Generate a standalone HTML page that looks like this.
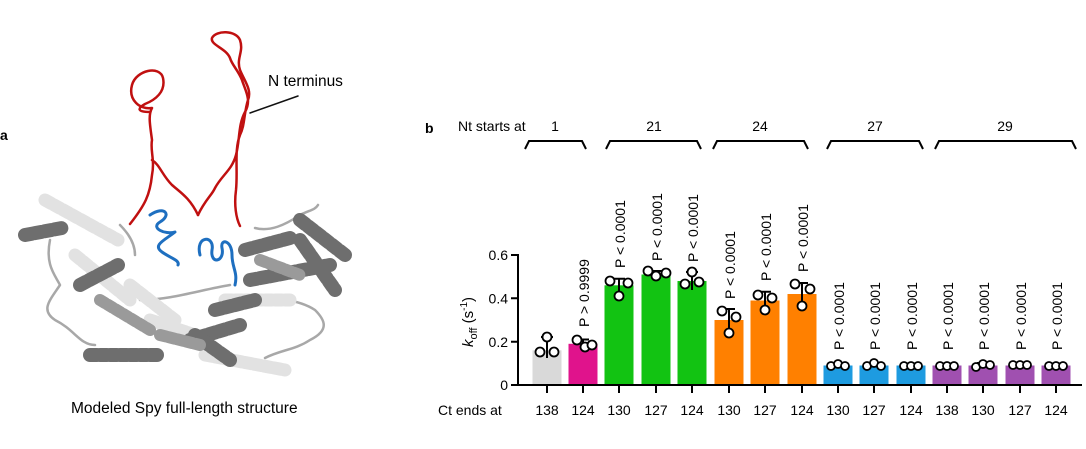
<!DOCTYPE html>
<html><head><meta charset="utf-8"><style>
html,body{margin:0;padding:0;background:#fff;}
svg{display:block;font-family:"Liberation Sans",Arial,sans-serif;}
</style></head><body>
<svg width="1086" height="449" viewBox="0 0 1086 449" xmlns="http://www.w3.org/2000/svg">
<rect width="1086" height="449" fill="#fff"/>
<!-- panel a -->
<text x="0" y="140" font-size="14" font-weight="bold">a</text>
<g fill="none" stroke-linecap="round" stroke-linejoin="round">
 <!-- loops gray -->
 <g stroke="#a8a8a8" stroke-width="2.5">
  <path d="M50,240 C45,265 55,275 60,285 C50,300 40,310 55,320 C75,330 80,345 95,345"/>
  <path d="M120,225 C130,235 135,245 135,255"/>
  <path d="M255,228 C270,232 285,225 300,215 C310,210 315,210 318,205"/>
  <path d="M240,300 C270,295 300,300 315,310 C325,320 330,330 310,340 C295,350 280,350 265,358"/>
  <path d="M140,300 C170,300 200,290 230,285"/>
 </g>
 <!-- light helices -->
 <g stroke="#e2e2e2" stroke-width="13" stroke-dasharray="7 3">
  <path d="M45,200 L118,240"/>
  <path d="M75,255 L130,300"/>
  <path d="M130,285 L175,320"/>
  <path d="M205,355 L285,370"/>
  <path d="M150,320 L195,335"/>
  <path d="M225,300 L290,300"/>
 </g>
 <!-- dark helices -->
 <g stroke="#6e6e6e" stroke-width="14" stroke-dasharray="7 3">
  <path d="M25,235 L62,228"/>
  <path d="M90,355 L160,355"/>
  <path d="M80,285 L118,265"/>
  <path d="M190,340 L240,325"/>
  <path d="M245,250 L290,238"/>
  <path d="M300,220 L345,255"/>
  <path d="M250,280 L330,265"/>
  <path d="M215,310 L255,300"/>
  <path d="M195,335 L230,360"/>
  <path d="M300,240 L335,290"/>
 </g>
 <g stroke="#9a9a9a" stroke-width="12" stroke-dasharray="6 3">
  <path d="M100,300 L150,330"/>
  <path d="M160,335 L200,345"/>
  <path d="M260,260 L300,275"/>
 </g>
 <!-- red loops -->
 <g stroke="#c01010" stroke-width="2.5">
  <path d="M130,224 C145,205 150,195 152,175 C155,160 150,150 152,140 C150,125 148,115 152,108 C140,110 128,100 132,85 C136,70 160,65 163,78 C166,92 155,100 145,104 C138,108 136,112 150,112"/>
  <path d="M152,160 C160,165 162,175 172,185 C180,192 190,198 198,215"/>
  <path d="M198,215 C205,200 212,195 215,188 C222,175 232,170 236,155 C240,140 238,125 245,112 C252,100 245,90 242,80 C238,70 232,65 230,58 C226,48 210,45 212,38 C216,30 236,30 240,40 C244,52 236,58 240,70 C245,82 252,90 248,100 C244,112 245,125 240,135 C234,150 238,170 236,190 C234,205 236,218 240,226"/>
 </g>
 <!-- blue helices -->
 <g stroke="#1e6fc0" stroke-width="3">
  <path d="M150,215 C165,205 172,215 160,222 C150,228 165,235 175,232 C165,240 152,245 162,252 C170,258 180,260 178,265"/>
  <path d="M200,255 C195,235 215,235 212,250 C210,265 225,262 222,248 C220,238 232,240 232,255 C232,268 238,272 235,285"/>
 </g>
 <path d="M250,113 L298,96" stroke="#111" stroke-width="1.5"/>
</g>
<text x="268" y="86" font-size="15.5">N terminus</text>
<text x="71" y="413" font-size="15.5">Modeled Spy full-length structure</text>

<!-- panel b -->
<text x="425" y="133" font-size="14" font-weight="bold">b</text>
<text x="458" y="131" font-size="14">Nt starts at</text>
<g font-size="14" text-anchor="middle">
 <text x="555" y="131">1</text>
 <text x="654" y="131">21</text>
 <text x="760" y="131">24</text>
 <text x="875" y="131">27</text>
 <text x="1005" y="131">29</text>
</g>
<g fill="none" stroke="#000" stroke-width="2">
 <path d="M525,149 L529,141 L582,141 L586,149"/>
 <path d="M606,149 L610,141 L697,141 L701,149"/>
 <path d="M713,149 L717,141 L804,141 L808,149"/>
 <path d="M827,149 L831,141 L919,141 L923,149"/>
 <path d="M935,149 L939,141 L1072,141 L1076,149"/>
</g>

<!-- bars -->
<rect x="532.5" y="350.3" width="29" height="34.7" fill="#d9d9d9"/>
<rect x="568.5" y="343.8" width="29" height="41.2" fill="#e0138c"/>
<rect x="604.5" y="285.3" width="29" height="99.7" fill="#12c312"/>
<rect x="641.5" y="274.5" width="29" height="110.5" fill="#12c312"/>
<rect x="677.5" y="281" width="29" height="104" fill="#12c312"/>
<rect x="714.5" y="320" width="29" height="65" fill="#ff8000"/>
<rect x="750.5" y="300.5" width="29" height="84.5" fill="#ff8000"/>
<rect x="787.5" y="294" width="29" height="91" fill="#ff8000"/>
<rect x="823.5" y="365.5" width="29" height="19.5" fill="#1e9be0"/>
<rect x="859.5" y="365.5" width="29" height="19.5" fill="#1e9be0"/>
<rect x="896.5" y="365.5" width="29" height="19.5" fill="#1e9be0"/>
<rect x="932.5" y="365.5" width="29" height="19.5" fill="#a050b0"/>
<rect x="968.5" y="365.5" width="29" height="19.5" fill="#a050b0"/>
<rect x="1005.5" y="365.5" width="29" height="19.5" fill="#a050b0"/>
<rect x="1041.5" y="365.5" width="29" height="19.5" fill="#a050b0"/>

<!-- error bars -->
<g stroke="#000" stroke-width="2" fill="none">
 <path d="M547,337 V358 M541,337 H553"/>
 <path d="M583,339.5 V348 M577,339.5 H589"/>
 <path d="M619,278.8 V296 M613,278.8 H625"/>
 <path d="M656,271 V278 M650,271 H662"/>
 <path d="M692,272 V290 M686,272 H698"/>
 <path d="M729,309 V332 M723,309 H735"/>
 <path d="M765,291.8 V310 M759,291.8 H771"/>
 <path d="M802,283 V305 M796,283 H808"/>
 <path d="M838,363 V367 M832,363 H844"/>
 <path d="M874,363 V367 M868,363 H880"/>
 <path d="M911,364 V367 M905,364 H917"/>
 <path d="M947,364 V367 M941,364 H953"/>
 <path d="M983,363 V367 M977,363 H989"/>
 <path d="M1020,363 V367 M1014,363 H1026"/>
 <path d="M1056,364 V367 M1050,364 H1062"/>
</g>
<!-- points -->
<g stroke="#000" stroke-width="1.8" fill="#fff">
 <circle cx="540" cy="352" r="4.5"/><circle cx="554" cy="352" r="4.5"/><circle cx="547" cy="337" r="4.5"/>
 <circle cx="577" cy="340" r="4.5"/><circle cx="585" cy="347" r="4.5"/><circle cx="592" cy="345" r="4.5"/>
 <circle cx="610" cy="281" r="4.5"/><circle cx="628" cy="283" r="4.5"/><circle cx="619" cy="296" r="4.5"/>
 <circle cx="648" cy="271" r="4.5"/><circle cx="656" cy="276" r="4.5"/><circle cx="666" cy="273" r="4.5"/>
 <circle cx="685" cy="284" r="4.5"/><circle cx="692" cy="272" r="4.5"/><circle cx="699" cy="282" r="4.5"/>
 <circle cx="722" cy="311" r="4.5"/><circle cx="736" cy="317" r="4.5"/><circle cx="729" cy="333" r="4.5"/>
 <circle cx="758" cy="295" r="4.5"/><circle cx="772" cy="298" r="4.5"/><circle cx="765" cy="310" r="4.5"/>
 <circle cx="795" cy="284" r="4.5"/><circle cx="810" cy="289" r="4.5"/><circle cx="802" cy="306" r="4.5"/>
 <circle cx="831" cy="366" r="4"/><circle cx="838" cy="364" r="4"/><circle cx="845" cy="366" r="4"/>
 <circle cx="867" cy="366" r="4"/><circle cx="874" cy="363" r="4"/><circle cx="881" cy="366" r="4"/>
 <circle cx="904" cy="366" r="4"/><circle cx="911" cy="366" r="4"/><circle cx="918" cy="366" r="4"/>
 <circle cx="940" cy="366" r="4"/><circle cx="947" cy="366" r="4"/><circle cx="954" cy="366" r="4"/>
 <circle cx="976" cy="367" r="4"/><circle cx="983" cy="364" r="4"/><circle cx="990" cy="365" r="4"/>
 <circle cx="1013" cy="365" r="4"/><circle cx="1020" cy="365" r="4"/><circle cx="1027" cy="365" r="4"/>
 <circle cx="1049" cy="366" r="4"/><circle cx="1056" cy="366" r="4"/><circle cx="1063" cy="366" r="4"/>
</g>

<!-- axes -->
<g stroke="#000" stroke-width="2" fill="none">
 <path d="M518,254 V385 H1082"/>
 <path d="M511,255 H518 M511,298.3 H518 M511,341.7 H518 M511,385 H518"/>
 <path d="M547,385 V393 M583,385 V393 M619,385 V393 M656,385 V393 M692,385 V393 M729,385 V393 M765,385 V393 M802,385 V393 M838,385 V393 M874,385 V393 M911,385 V393 M947,385 V393 M983,385 V393 M1020,385 V393 M1056,385 V393"/>
</g>
<g font-size="14" text-anchor="end">
 <text x="508" y="260">0.6</text>
 <text x="508" y="303.5">0.4</text>
 <text x="508" y="347">0.2</text>
 <text x="508" y="390">0</text>
</g>
<text transform="translate(473,322) rotate(-90)" text-anchor="middle" font-size="15"><tspan font-style="italic">k</tspan><tspan font-size="11" dy="4">off</tspan><tspan dy="-4"> (s</tspan><tspan font-size="10" dy="-6">-1</tspan><tspan dy="6">)</tspan></text>

<text x="438" y="415" font-size="14">Ct ends at</text>
<g font-size="14" text-anchor="middle">
 <text x="547" y="415">138</text><text x="583" y="415">124</text>
 <text x="619" y="415">130</text><text x="656" y="415">127</text><text x="692" y="415">124</text>
 <text x="729" y="415">130</text><text x="765" y="415">127</text><text x="802" y="415">124</text>
 <text x="838" y="415">130</text><text x="874" y="415">127</text><text x="911" y="415">124</text>
 <text x="947" y="415">138</text><text x="983" y="415">130</text><text x="1020" y="415">127</text><text x="1056" y="415">124</text>
</g>

<!-- P labels -->
<g font-size="14">
 <text transform="translate(589,327) rotate(-90)">P &gt; 0.9999</text>
 <text transform="translate(625,268) rotate(-90)">P &lt; 0.0001</text>
 <text transform="translate(662,261) rotate(-90)">P &lt; 0.0001</text>
 <text transform="translate(698,262) rotate(-90)">P &lt; 0.0001</text>
 <text transform="translate(735,299) rotate(-90)">P &lt; 0.0001</text>
 <text transform="translate(771,281) rotate(-90)">P &lt; 0.0001</text>
 <text transform="translate(808,272) rotate(-90)">P &lt; 0.0001</text>
 <text transform="translate(844,350) rotate(-90)">P &lt; 0.0001</text>
 <text transform="translate(880,350) rotate(-90)">P &lt; 0.0001</text>
 <text transform="translate(917,350) rotate(-90)">P &lt; 0.0001</text>
 <text transform="translate(953,350) rotate(-90)">P &lt; 0.0001</text>
 <text transform="translate(989,350) rotate(-90)">P &lt; 0.0001</text>
 <text transform="translate(1026,350) rotate(-90)">P &lt; 0.0001</text>
 <text transform="translate(1062,350) rotate(-90)">P &lt; 0.0001</text>
</g>
</svg>
</body></html>
